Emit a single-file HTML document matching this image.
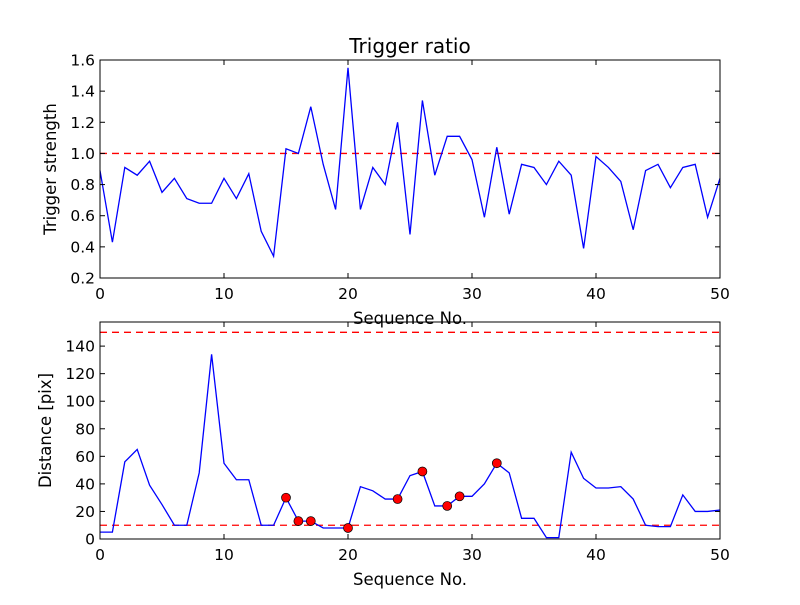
<!DOCTYPE html>
<html><head><meta charset="utf-8"><style>body{margin:0;background:#fff}svg text{font-family:"DejaVu Sans","Liberation Sans",sans-serif}</style></head>
<body>
<svg id="fig" width="800" height="600" xmlns="http://www.w3.org/2000/svg"></svg>
<script>
const seqNo = Array.from({length:51},(_,i)=>i);
const triggerStrength = [0.89,0.43,0.91,0.86,0.95,0.75,0.84,0.71,0.68,0.68,0.84,0.71,0.87,0.5,0.34,1.03,1.0,1.3,0.93,0.64,1.55,0.64,0.91,0.8,1.2,0.48,1.34,0.86,1.11,1.11,0.96,0.59,1.04,0.61,0.93,0.91,0.8,0.95,0.86,0.39,0.98,0.91,0.82,0.51,0.89,0.93,0.78,0.91,0.93,0.59,0.84];
const distance = [5,5,56,65,39,25,10,10,48,134,55,43,43,10,10,30,13,13,8,8,8,38,35,29,29,46,49,24,24,31,31,40,55,48,15,15,1,1,63,44,37,37,38,29,10,9,9,32,20,20,21];
const markedIdx = [15,16,17,20,24,26,28,29,32];
const triggerThreshold = 1.0;
const distThresholds = [10,150];
const xTicks = [0,10,20,30,40,50];
const topYTicks = [0.2,0.4,0.6,0.8,1.0,1.2,1.4,1.6];
const botYTicks = [0,20,40,60,80,100,120,140];

const NS="http://www.w3.org/2000/svg";
const svg=document.getElementById('fig');
function el(tag,attrs,parent){const e=document.createElementNS(NS,tag);for(const k in attrs)e.setAttribute(k,attrs[k]);(parent||svg).appendChild(e);return e;}
const L=100,R=720;
const xs=v=>L+(v-0)/(50-0)*(R-L);
function axes(name,top,bot,ymin,ymax,yTicks,fmt,ylabel,xlabel,ylx){
  const g=el('g',{});
  
  
  const ys=v=>bot-(v-ymin)/(ymax-ymin)*(bot-top);
  return {g,ys,draw(){
    const f=el('rect',{x:L,y:top,width:R-L,height:bot-top,fill:'none',stroke:'#000','stroke-width':1},g);
    
    
    xTicks.forEach(t=>{const x=xs(t);
      el('line',{x1:x,x2:x,y1:bot,y2:bot-5,stroke:'#000'},g);el('line',{x1:x,x2:x,y1:top,y2:top+5,stroke:'#000'},g);
      const tx=el('text',{x:x,y:bot+21,'text-anchor':'middle','font-size':15.5},g);tx.textContent=t;
      
      });
    yTicks.forEach(t=>{const y=ys(t);
      el('line',{x1:L,x2:L+5,y1:y,y2:y,stroke:'#000'},g);el('line',{x1:R,x2:R-5,y1:y,y2:y,stroke:'#000'},g);
      const tx=el('text',{x:L-5,y:y+5.5,'text-anchor':'end','font-size':15.5},g);tx.textContent=fmt(t);
      
      });
    const yl=el('text',{x:0,y:0,'text-anchor':'middle','font-size':16.5,transform:`translate(${ylx},${(top+bot)/2}) rotate(-90)`},g);yl.textContent=ylabel;
    
    
    const xl=el('text',{x:(L+R)/2,y:bot+46,'text-anchor':'middle','font-size':16.5},g);xl.textContent=xlabel;
    
    
  }};
}
const A=axes('top-axes',60,278,0.2,1.6,topYTicks,v=>v.toFixed(1),'Trigger strength','Sequence No.',56);
const ht=el('line',{x1:L,x2:R,y1:A.ys(triggerThreshold),y2:A.ys(triggerThreshold),stroke:'#f00','stroke-width':1.3,'stroke-dasharray':'7,5'},A.g);


const p1=el('polyline',{points:seqNo.map((x,i)=>xs(x)+','+A.ys(triggerStrength[i])).join(' '),fill:'none',stroke:'#00f','stroke-width':1.3},A.g);


A.draw();
const title=el('text',{x:410,y:53,'text-anchor':'middle','font-size':20});title.textContent='Trigger ratio';


const B=axes('bottom-axes',322,539,0,157.5,botYTicks,v=>v,'Distance [pix]','Sequence No.',51);
distThresholds.forEach(t=>{const l=el('line',{x1:L,x2:R,y1:B.ys(t),y2:B.ys(t),stroke:'#f00','stroke-width':1.3,'stroke-dasharray':'7,5'},B.g);
  
  });
const p2=el('polyline',{points:seqNo.map((x,i)=>xs(x)+','+B.ys(distance[i])).join(' '),fill:'none',stroke:'#00f','stroke-width':1.3},B.g);


markedIdx.forEach(i=>{const c=el('circle',{cx:xs(seqNo[i]),cy:B.ys(distance[i]),r:4.5,fill:'#f00',stroke:'#000','stroke-width':0.7},B.g);
  
  });
B.draw();
</script>
</body></html>
